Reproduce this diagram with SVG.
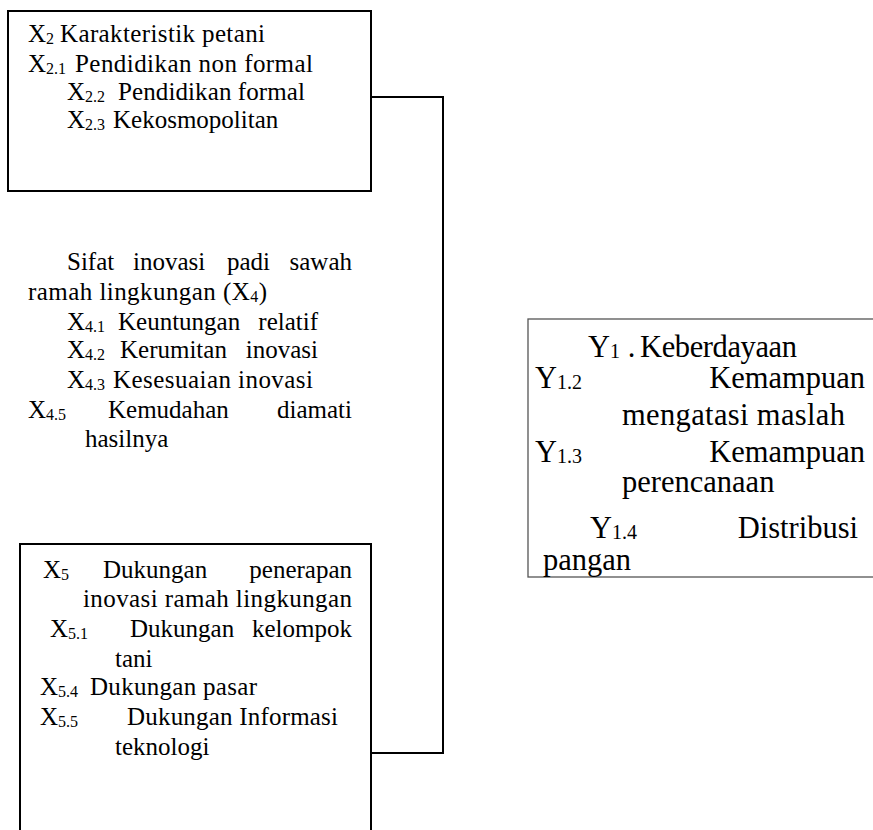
<svg xmlns="http://www.w3.org/2000/svg" width="873" height="830" viewBox="0 0 873 830">
<style>
.box{fill:#fff;stroke:#000;stroke-width:2}
.boxg{fill:#fff;stroke:#555;stroke-width:1.3}
.conn{fill:none;stroke:#000;stroke-width:2}
text{font-family:"Liberation Serif","Times New Roman",serif;fill:#000}
.t{font-size:25px}
.r{font-size:30.5px}
.s{font-size:16px}
.sr{font-size:20px}
.e{text-anchor:end}
</style>
<rect width="873" height="830" fill="#fff"/>
<g id="connectors">
<polyline class="conn" points="371,97 443,97 443,753 371,753"/>
</g>
<g id="node-x2">
<rect class="box" x="8" y="11" width="363" height="180"/>
<text class="t" x="28" y="42">X<tspan class="s" dy="2">2</tspan></text>
<text class="t" x="60" y="42" textLength="205">Karakteristik petani</text>
<text class="t" x="28" y="72">X<tspan class="s" dy="2">2.1</tspan></text>
<text class="t" x="75" y="72" textLength="238">Pendidikan non formal</text>
<text class="t" x="67" y="100">X<tspan class="s" dy="2">2.2</tspan></text>
<text class="t" x="118" y="100" textLength="187">Pendidikan formal</text>
<text class="t" x="67" y="128">X<tspan class="s" dy="2">2.3</tspan></text>
<text class="t" x="113" y="128">Kekosmopolitan</text>
</g>
<g id="node-x4">
<text class="t" x="67" y="270">Sifat</text>
<text class="t" x="133" y="270">inovasi</text>
<text class="t" x="227" y="270">padi</text>
<text class="t e" x="352" y="270">sawah</text>
<text class="t" x="28" y="300" textLength="239">ramah lingkungan (X<tspan class="s" dy="2">4</tspan><tspan dy="-2">)</tspan></text>
<text class="t" x="67" y="330">X<tspan class="s" dy="2">4.1</tspan></text>
<text class="t" x="118" y="330">Keuntungan</text>
<text class="t e" x="318" y="330">relatif</text>
<text class="t" x="67" y="358">X<tspan class="s" dy="2">4.2</tspan></text>
<text class="t" x="120" y="358">Kerumitan</text>
<text class="t e" x="318" y="358">inovasi</text>
<text class="t" x="67" y="388">X<tspan class="s" dy="2">4.3</tspan></text>
<text class="t" x="113" y="388" textLength="200">Kesesuaian inovasi</text>
<text class="t" x="28" y="418">X<tspan class="s" dy="2">4.5</tspan></text>
<text class="t" x="108" y="418">Kemudahan</text>
<text class="t e" x="352" y="418">diamati</text>
<text class="t" x="85" y="447">hasilnya</text>
</g>
<g id="node-x5">
<rect class="box" x="20" y="544" width="351" height="300"/>
<text class="t" x="43" y="578">X<tspan class="s" dy="2">5</tspan></text>
<text class="t" x="103" y="578">Dukungan</text>
<text class="t e" x="352" y="578">penerapan</text>
<text class="t" x="83" y="607" textLength="269">inovasi ramah lingkungan</text>
<text class="t" x="50" y="637">X<tspan class="s" dy="2">5.1</tspan></text>
<text class="t" x="130" y="637">Dukungan</text>
<text class="t e" x="352" y="637">kelompok</text>
<text class="t" x="115" y="667">tani</text>
<text class="t" x="40" y="695">X<tspan class="s" dy="2">5.4</tspan></text>
<text class="t" x="90" y="695" textLength="167">Dukungan pasar</text>
<text class="t" x="40" y="725">X<tspan class="s" dy="2">5.5</tspan></text>
<text class="t" x="127" y="725" textLength="211">Dukungan Informasi</text>
<text class="t" x="115" y="755">teknologi</text>
</g>
<g id="node-y1">
<rect class="boxg" x="528" y="319" width="400" height="258"/>
<text class="r" x="588" y="357">Y<tspan class="sr" dy="1">1</tspan><tspan dy="-1"> .</tspan></text>
<text class="r" x="640" y="357" textLength="157">Keberdayaan</text>
<text class="r" x="535" y="388">Y<tspan class="sr" dy="1">1.2</tspan></text>
<text class="r e" x="865" y="388">Kemampuan</text>
<text class="r" x="622" y="425" textLength="223">mengatasi maslah</text>
<text class="r" x="535" y="462">Y<tspan class="sr" dy="1">1.3</tspan></text>
<text class="r e" x="865" y="462">Kemampuan</text>
<text class="r" x="622" y="492">perencanaan</text>
<text class="r" x="590" y="538">Y<tspan class="sr" dy="1">1.4</tspan></text>
<text class="r e" x="858" y="538">Distribusi</text>
<text class="r" x="543" y="570">pangan</text>
</g>
</svg>
